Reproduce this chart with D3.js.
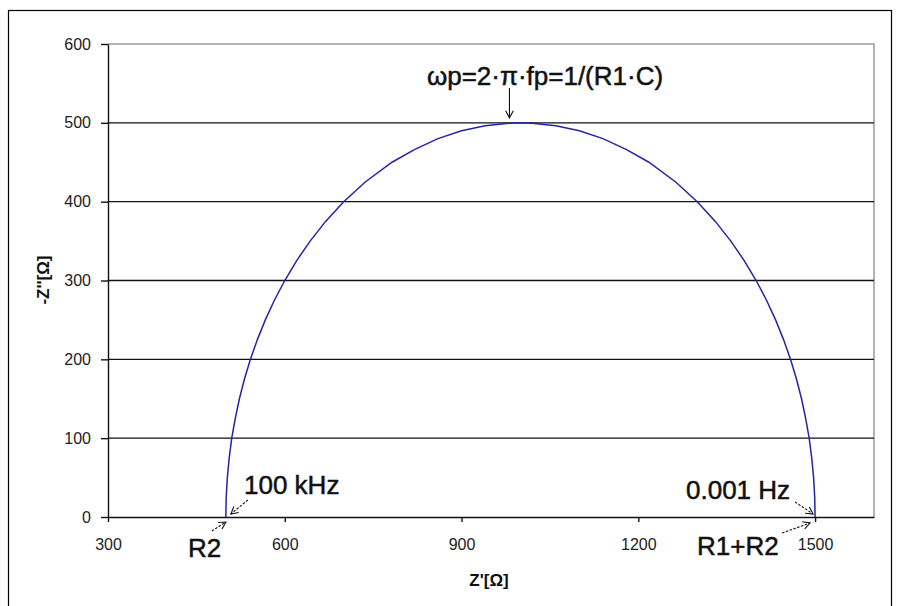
<!DOCTYPE html>
<html><head><meta charset="utf-8">
<script src="https://cdn.jsdelivr.net/npm/d3@7"></script>
<style>body{margin:0;background:#fff} svg{display:block}</style>
</head><body><svg id="c" width="899" height="606"></svg>
<script>
// ---- data ----
const xTicks = [300, 600, 900, 1200, 1500];
const yTicks = [0, 100, 200, 300, 400, 500, 600];
const xDomain = [300, 1600];
const yDomain = [0, 600];
// Z' (real part) and -Z'' (imaginary part), ohms
const zRe = [500, 500.6, 502.5, 505.7, 510, 516, 523, 531.6, 541.7, 553.5, 567, 582.4, 600, 620, 643, 669.3, 700, 736.6, 782, 820, 860, 900, 940, 980, 1000,
             1020, 1060, 1100, 1140, 1180, 1218, 1263.4, 1300, 1330.7, 1357, 1380, 1400, 1417.6, 1433, 1446.5, 1458.3, 1468.4, 1477, 1484, 1490, 1494.3, 1497.5, 1499.4, 1500];
const zIm = [0, 25, 50, 75, 100, 125, 150, 175, 200, 225, 250, 275, 300, 325, 350, 375, 400, 425, 450, 466, 480, 490, 496.4, 499.6, 500,
             499.6, 496.4, 490, 480, 466, 450, 425, 400, 375, 350, 325, 300, 275, 250, 225, 200, 175, 150, 125, 100, 75, 50, 25, 0];
const xTitle = "Z'[Ω]";
const yTitle = "-Z''[Ω]";
const labelPeak = "ωp=2·π·fp=1/(R1·C)";
const labelHigh = "100 kHz";
const labelLow = "0.001 Hz";
const labelR2 = "R2";
const labelR1R2 = "R1+R2";

// ---- drawing ----
const svg = d3.select("#c");
const m = {l:108, t:44, r:874, b:517};
const x = d3.scaleLinear(xDomain, [m.l, m.r]);
const y = d3.scaleLinear(yDomain, [m.b, m.t]);
const font = "'Liberation Sans', Arial, sans-serif";

// outer frame
svg.append("rect").attr("x", 8.5).attr("y", 10.5).attr("width", 883).attr("height", 620)
  .attr("fill", "none").attr("stroke", "#000").attr("stroke-width", 1.2);

// plot border (gray top/right)
svg.append("path")
  .attr("d", `M${m.l},${m.t}H${m.r}V${m.b}`)
  .attr("fill", "none").attr("stroke", "#9a9a9a").attr("stroke-width", 1.5);

// gridlines
svg.append("g").selectAll("line")
  .data(yTicks.filter(v => v > 0 && v < 600))
  .join("line")
  .attr("x1", m.l).attr("x2", m.r)
  .attr("y1", d => y(d)).attr("y2", d => y(d))
  .attr("stroke", "#111").attr("stroke-width", 1.4);

// axes
const fmt = d3.format("d");
const gy = svg.append("g").attr("transform", `translate(${m.l},0)`)
  .call(d3.axisLeft(y).tickValues(yTicks).tickFormat(fmt).tickSize(7).tickSizeOuter(0).tickPadding(10));
const gx = svg.append("g").attr("transform", `translate(0,${m.b})`)
  .call(d3.axisBottom(x).tickValues(xTicks).tickFormat(fmt).tickSize(5).tickSizeOuter(0).tickPadding(17));
[gx, gy].forEach(g => {
  g.selectAll("path,line").attr("stroke", "#111").attr("stroke-width", 1.4);
  g.selectAll("text").attr("font-family", font).attr("font-size", 16).attr("fill", "#222");
});

// curve
const pts = zRe.map((v, i) => [v, zIm[i]]);
svg.append("path").datum(pts)
  .attr("d", d3.line().x(d => x(d[0])).y(d => y(d[1])))
  .attr("fill", "none").attr("stroke", "#2424a8").attr("stroke-width", 1.5);

// axis titles
svg.append("text").attr("x", 489).attr("y", 586).attr("text-anchor", "middle")
  .attr("font-family", font).attr("font-weight", "bold").attr("font-size", 17).attr("fill", "#111").text(xTitle);
svg.append("text").attr("transform", "translate(49,280) rotate(-90)").attr("text-anchor", "middle")
  .attr("font-family", font).attr("font-weight", "bold").attr("font-size", 17).attr("fill", "#111").text(yTitle);

// annotations
function label(txt, px, py, anchor) {
  svg.append("text").attr("x", px).attr("y", py).attr("text-anchor", anchor || "start")
    .attr("font-family", font).attr("font-size", 26).attr("fill", "#111")
    .attr("stroke", "#111").attr("stroke-width", 0.5).text(txt);
}
function arrow(x1, y1, x2, y2, dashed) {
  svg.append("line").attr("x1", x1).attr("y1", y1).attr("x2", x2).attr("y2", y2)
    .attr("stroke", "#111").attr("stroke-width", 1.1)
    .attr("stroke-dasharray", dashed ? "2.5,1.5" : null);
  const a = Math.atan2(y2 - y1, x2 - x1), L = 8, s = 0.5;
  const p1 = [x2 - L * Math.cos(a - s), y2 - L * Math.sin(a - s)];
  const p2 = [x2 - L * Math.cos(a + s), y2 - L * Math.sin(a + s)];
  svg.append("path").attr("d", `M${p1}L${x2},${y2}L${p2}`)
    .attr("fill", "none").attr("stroke", "#111").attr("stroke-width", 1.1);
}
const pk = [x(1000), y(500)];
label(labelPeak, 545, 85, "middle");
arrow(x(1000) - 11, 88, x(1000) - 11, pk[1] - 5, false);

const hi = [x(500), y(0)];
label(labelHigh, 244, 494);
arrow(hi[0] + 22, hi[1] - 17, hi[0] + 5, hi[1] - 3, true);
label(labelR2, 188, 557);
arrow(hi[0] - 14, hi[1] + 14, hi[0], hi[1] + 5, true);

const lo = [x(1500), y(0)];
label(labelLow, 686, 499);
arrow(lo[0] - 20, lo[1] - 15, lo[0] - 2, lo[1] - 3, true);
label(labelR1R2, 697, 555);
arrow(lo[0] - 33, lo[1] + 16, lo[0] - 5, lo[1] + 6, true);
</script></body></html>
